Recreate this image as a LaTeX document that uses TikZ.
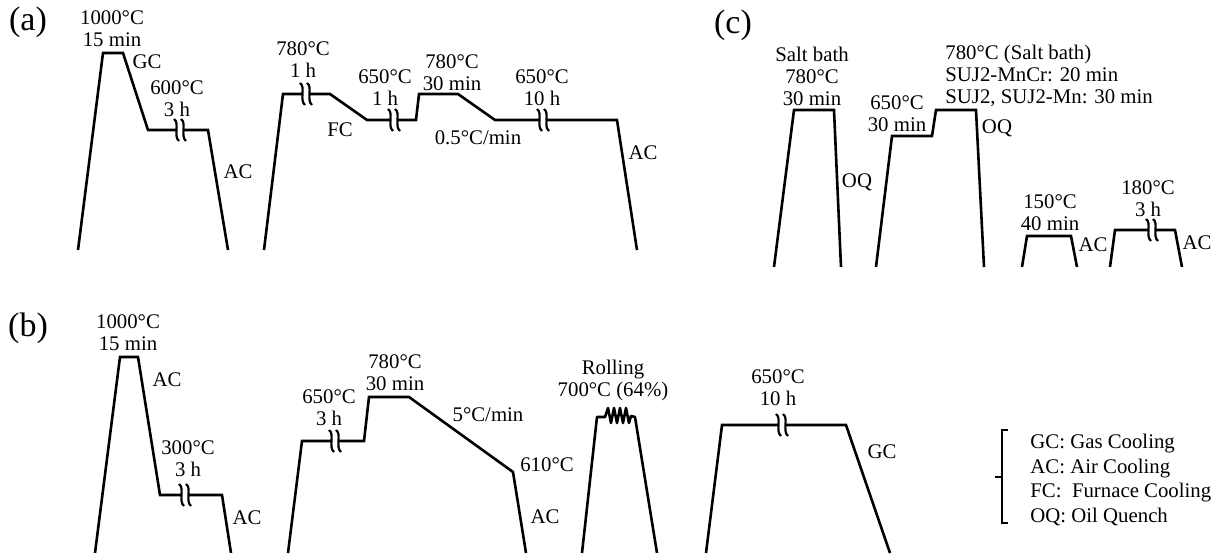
\documentclass[tikz,border=0pt]{standalone}
\usepackage{fontspec}
\setmainfont{Liberation Serif}
\usepackage{tikz}

\newcommand{\brk}[2]{%
  \fill[white] (#1-3.5,#2-3) rectangle (#1+3.5,#2+3);
  \draw[line width=1.1pt] (#1-6,#2-11) .. controls (#1,#2-7) and (#1-7,#2+6) .. (#1-1,#2+11);
  \draw[line width=1.1pt] (#1+1,#2-11) .. controls (#1+7,#2-7) and (#1,#2+6) .. (#1+6,#2+11);
}

\begin{document}
\begin{tikzpicture}[x=0.5pt, y=-0.5pt,
  prof/.style={line width=1.3pt, line join=miter},
  lbl/.style={align=center, inner sep=0pt, font=\fontsize{10.4}{11}\selectfont},
  tag/.style={inner sep=0pt, font=\fontsize{17}{17}\selectfont}]
  \useasboundingbox (0,0) rectangle (1217,555);

  % (a)
  \node[tag] (taga) at (28,22) {(a)};
  \draw[prof] (78,250) -- (103,53) -- (123,53) -- (148,130) -- (208,130) -- (228,250);
  \draw[prof] (264,250) -- (283,94) -- (330,94) -- (367,120) -- (416,120) -- (419,94)
    -- (458,94) -- (495,120) -- (617,120) -- (637,250);
  \node[lbl] (a1) at (112,29) {1000°C\\15 min};
  \node[lbl] (a2) at (147,62) {GC};
  \node[lbl] (a3) at (177,99) {600°C\\3 h};
  \node[lbl] (a4) at (238,172) {AC};
  \node[lbl] (a5) at (303,60) {780°C\\1 h};
  \node[lbl] (a6) at (385,88) {650°C\\1 h};
  \node[lbl] (a7) at (452,73) {780°C\\30 min};
  \node[lbl] (a8) at (542,88) {650°C\\10 h};
  \node[lbl] (a9) at (340,130) {FC};
  \node[lbl] (a10) at (478,138) {0.5°C/min};
  \node[lbl] (a11) at (643,153) {AC};

  % (b)
  \node[tag] (tagb) at (28,328) {(b)};
  \draw[prof] (95,553) -- (120,357) -- (138,357) -- (160,495) -- (222,495) -- (231,553);
  \draw[prof] (288,553) -- (302,441) -- (364,441) -- (369,397) -- (409,397) -- (513,472) -- (526,553);
  \draw[prof, line join=round] (582,553) -- (597,417) -- (605,417) -- (608,408) -- (611,423) -- (614,408)
    -- (617,423) -- (620,408) -- (623,423) -- (626,408) -- (629,423) -- (631,416) -- (635,417) -- (657,553);
  \draw[prof] (706,553) -- (722,425) -- (846,425) -- (890,553);
  \node[lbl] (b1) at (128,333) {1000°C\\15 min};
  \node[lbl] (b2) at (167,380) {AC};
  \node[lbl] (b3) at (188,459) {300°C\\3 h};
  \node[lbl] (b4) at (247,518) {AC};
  \node[lbl] (b5) at (329,408) {650°C\\3 h};
  \node[lbl] (b6) at (395,373) {780°C\\30 min};
  \node[lbl] (b7) at (488,415) {5°C/min};
  \node[lbl] (b8) at (547,465) {610°C};
  \node[lbl] (b9) at (545,517) {AC};
  \node[lbl] (b10) at (613,381) {Rolling\\700°C (64\%)};
  \node[lbl] (b11) at (778,388) {650°C\\10 h};
  \node[lbl] (b12) at (882,452) {GC};

  % (c)
  \node[tag] (tagc) at (733,25) {(c)};
  \draw[prof] (774,267) -- (794,110) -- (834,110) -- (841,267);
  \draw[prof] (876,267) -- (892,136) -- (932,136) -- (936,110) -- (976,110) -- (984,267);
  \draw[prof] (1022,267) -- (1027,236) -- (1071,236) -- (1077,267);
  \draw[prof] (1110,267) -- (1115,230) -- (1175,230) -- (1182,267);
  \node[lbl] (c1) at (812,76) {Salt bath\\780°C\\30 min};
  \node[lbl] (c2) at (857,182) {OQ};
  \node[lbl] (c3) at (897,114) {650°C\\30 min};
  \node[lbl, align=left, anchor=west] (c4) at (945,76) {780°C (Salt bath)\\SUJ2-MnCr: 20 min\\SUJ2, SUJ2-Mn: 30 min};
  \node[lbl] (c5) at (997,128) {OQ};
  \node[lbl] (c6) at (1050,213) {150°C\\40 min};
  \node[lbl] (c7) at (1093,245) {AC};
  \node[lbl] (c8) at (1148,199) {180°C\\3 h};
  \node[lbl] (c9) at (1197,243) {AC};

  % holding breaks
  \foreach \x/\y in {180/130, 306/94, 394/120, 543/120, 185/495, 335/441, 782/425, 1152/230} {
    \brk{\x}{\y}
  }

  % legend
  \draw[line width=0.8pt] (1008,430) -- (1002,430) -- (1002,523) -- (1008,523);
  \draw[line width=0.8pt] (1002,477) -- (995,477);
  \node[lbl, align=left, anchor=west, font=\fontsize{10.4}{12.25}\selectfont] (leg) at (1030,480)
    {GC: Gas Cooling\\AC: Air Cooling\\FC:\ \ Furnace Cooling\\OQ: Oil Quench};
\end{tikzpicture}
\end{document}
